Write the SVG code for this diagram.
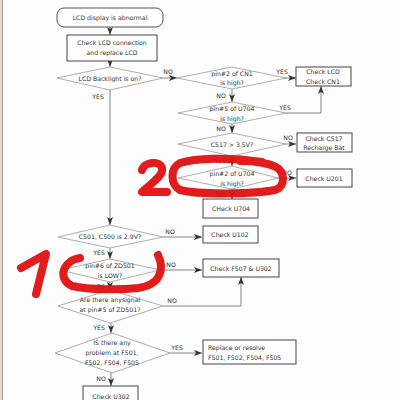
<svg xmlns="http://www.w3.org/2000/svg" width="400" height="400" viewBox="0 0 400 400">
<style>
text{font-family:"DejaVu Sans","Liberation Sans",sans-serif;font-size:6.2px;fill:#333;text-anchor:middle}
.l{text-anchor:start}
.box{fill:#fff;stroke:#444;stroke-width:1}
.dia{fill:#fff;stroke:#999;stroke-width:0.8}
.c{fill:none;stroke:#666;stroke-width:0.8}
.red{fill:none;stroke:#e01010;stroke-width:8;stroke-linecap:round;stroke-linejoin:round;opacity:0.95}
</style>
<defs>
<marker id="a" viewBox="0 0 8 6" refX="8" refY="3" markerWidth="8" markerHeight="6" markerUnits="userSpaceOnUse" orient="auto">
<path d="M0,0 L8,3 L0,6 L2,3 z" fill="#333"/>
</marker>
</defs>
<rect width="400" height="400" fill="#fdfdfd"/>
<rect x="0" y="0" width="2" height="400" fill="#e2ded2"/>
<line x1="2.5" y1="0" x2="2.5" y2="400" stroke="#a8a498" stroke-width="1"/>

<g id="connectors">
<path class="c" d="M110,27 V35" marker-end="url(#a)"/>
<path class="c" d="M110,61 V67" marker-end="url(#a)"/>
<path class="c" d="M163,78 H177" marker-end="url(#a)"/>
<text x="168" y="74">NO</text>
<path class="c" d="M232,89 V102" marker-end="url(#a)"/>
<text x="221" y="98">NO</text>
<path class="c" d="M284,78 H296" marker-end="url(#a)"/>
<text x="282" y="74">YES</text>
<path class="c" d="M286,113 H321 V86" marker-end="url(#a)"/>
<text x="285" y="110">YES</text>
<path class="c" d="M232,124 V133" marker-end="url(#a)"/>
<text x="221" y="131">NO</text>
<path class="c" d="M286,144 H296" marker-end="url(#a)"/>
<text x="288" y="140">NO</text>
<path class="c" d="M232,156 V166" marker-end="url(#a)"/>
<text x="220" y="163">YES</text>
<path class="c" d="M278,178 H296" marker-end="url(#a)"/>
<text x="287" y="175">NO</text>
<path class="c" d="M232,189 V199" marker-end="url(#a)"/>
<text x="221" y="197">NO</text>
<path class="c" d="M110,90 V225" marker-end="url(#a)"/>
<text x="98" y="99">YES</text>
<path class="c" d="M163,237 H202" marker-end="url(#a)"/>
<text x="170" y="234">NO</text>
<path class="c" d="M110,248 V259" marker-end="url(#a)"/>
<text x="99" y="255">YES</text>
<path class="c" d="M160,270 H202" marker-end="url(#a)"/>
<text x="171" y="267">NO</text>
<path class="c" d="M110,282 V290" marker-end="url(#a)"/>
<text x="99" y="289">YES</text>
<path class="c" d="M163,306 H241 V277" marker-end="url(#a)"/>
<text x="172" y="303">NO</text>
<path class="c" d="M111,323 V333" marker-end="url(#a)"/>
<text x="99" y="330">YES</text>
<path class="c" d="M170,353 H202" marker-end="url(#a)"/>
<text x="177" y="350">YES</text>
<path class="c" d="M111,373 V386" marker-end="url(#a)"/>
<text x="101" y="381">NO</text>
</g>

<g id="start">
<rect x="57" y="8" width="106" height="19" rx="7" class="box" style="stroke:#555"/>
<text x="110" y="19.5">LCD display is abnormal</text>
</g>
<g id="check-lcd">
<rect x="67" y="35" width="90" height="26" class="box"/>
<text x="112" y="45">Check LCD connection</text>
<text x="112" y="54.5">and replace LCD</text>
</g>
<g id="backlight">
<polygon points="57,78 110,67 163,78 110,90" class="dia"/>
<text x="110" y="80.5">LCD Backlight is on?</text>
</g>
<g id="pin2-cn1">
<polygon points="177,78 232,67 286,78 232,89" class="dia"/>
<text x="232" y="75.5">pin#2 of CN1</text>
<text x="232" y="85">is high?</text>
</g>
<g id="check-cn1">
<rect x="296" y="67" width="55" height="19" class="box"/>
<text x="323" y="74">Check LCD</text>
<text x="323" y="83.5">Check CN1</text>
</g>
<g id="pin5-u704">
<polygon points="178,113 232,102 286,113 232,124" class="dia"/>
<text x="232" y="111">pin#5 of U704</text>
<text x="232" y="120.5">is high?</text>
</g>
<g id="c517">
<polygon points="178,144 232,133 286,144 232,156" class="dia"/>
<text x="232" y="146.5">C517 &gt; 3.5V?</text>
</g>
<g id="check-c517">
<rect x="297" y="133" width="55" height="19" class="box"/>
<text x="324" y="140.5">Check C517</text>
<text x="324" y="150">Recharge Bat</text>
</g>
<g id="pin2-u704">
<polygon points="178,178 232,166 278,178 232,189" class="dia"/>
<text x="232" y="176">pin#2 of U704</text>
<text x="232" y="185.5">is high?</text>
</g>
<g id="check-u201">
<rect x="297" y="169" width="55" height="18" class="box"/>
<text x="324" y="180.5">Check U201</text>
</g>
<g id="check-u704">
<rect x="203" y="199" width="55" height="19" class="box"/>
<text x="231" y="211">CHeck U704</text>
</g>
<g id="c501">
<polygon points="58,237 110,225 163,237 110,248" class="dia"/>
<text x="110" y="239">C501, C500 is 2.9V?</text>
</g>
<g id="check-u102">
<rect x="203" y="226" width="55" height="17" class="box"/>
<text x="230" y="237">Check U102</text>
</g>
<g id="pin6-zd501">
<polygon points="60,270 110,259 160,270 110,282" class="dia"/>
<text x="110" y="268">pin#6 of ZD501</text>
<text x="110" y="277.5">is LOW?</text>
</g>
<g id="check-f507">
<rect x="203" y="259" width="76" height="18" class="box"/>
<text x="241" y="270.5">Check F507 &amp; U302</text>
</g>
<g id="anysignal">
<polygon points="58,306 110,290 163,306 110,323" class="dia"/>
<text x="110" y="302">Are there anysignal</text>
<text x="110" y="312">at pin#5 of ZD501?</text>
</g>
<g id="problem">
<polygon points="55,353 112,333 170,353 112,373" class="dia"/>
<text x="112" y="345">IS there any</text>
<text x="112" y="355">problem at F501,</text>
<text x="112" y="364.5">F502, F504, F505</text>
</g>
<g id="replace">
<rect x="203" y="340" width="93" height="24" class="box"/>
<text class="l" x="208" y="350">Replace or resolve</text>
<text class="l" x="208" y="359.5">F501, F502, F504, F505</text>
</g>
<g id="check-u302">
<rect x="83" y="386" width="55" height="20" class="box"/>
<text x="111" y="399">Check U302</text>
</g>

<g id="annotations">
<path class="red" d="M142,170 C144,162 160,160 162,168 C164,176 150,184 142,192 L167,192"/>
<path class="red" d="M262,162 C230,157 195,158 180,163 C170,168 170,184 180,190 C200,195 255,194 275,190 C286,186 285,172 276,167 C266,162 250,161 240,161"/>
<path class="red" d="M21,268 L46,254 L36,294"/>
<path class="red" d="M80,258 C64,260 56,278 72,286 C90,290 120,290 138,288 C160,285 165,270 158,255"/>
</g>
</svg>
